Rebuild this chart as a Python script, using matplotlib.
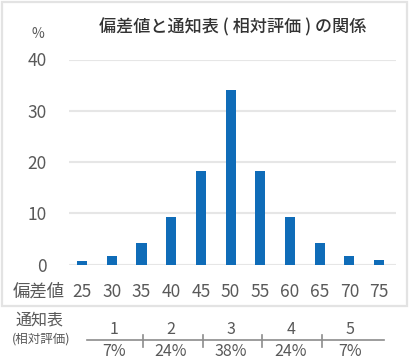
import matplotlib
matplotlib.use("Agg")
import matplotlib.pyplot as plt
from matplotlib.patches import Rectangle
from matplotlib.lines import Line2D

plt.rcParams['font.family'] = ['Noto Sans CJK JP', 'DejaVu Sans']

deviation = ['25', '30', '35', '40', '45', '50', '55', '60', '65', '70', '75']
percent = [0.6, 1.7, 4.1, 9.2, 18.2, 34.0, 18.2, 9.2, 4.1, 1.7, 0.9]
grades = ['1', '2', '3', '4', '5']
grade_share = ['7%', '24%', '38%', '24%', '7%']
yticks = [0, 10, 20, 30, 40]

W, H = 411, 364
fig = plt.figure(figsize=(W / 100, H / 100), dpi=100)

def fx(px):
    return px / W

def fy(py):
    return 1 - py / H

# outer frame
fig.patches.append(Rectangle((fx(2), fy(306)), fx(407) - fx(2), fy(2) - fy(306),
                             transform=fig.transFigure, fill=False,
                             edgecolor='#e3e3e3', linewidth=1.6))

ax = fig.add_axes([fx(69), fy(264.5), fx(396) - fx(69), fy(59.5) - fy(264.5)])
x = list(range(len(deviation)))
ax.bar(x, percent, width=0.34, color='#0f6cb8', zorder=3)
ax.set_xlim(-0.44, 10.57)
ax.set_ylim(0, 40)
ax.set_yticks(yticks)
ax.set_yticklabels([str(v) for v in yticks], fontsize=12.5, color='#595959')
ax.set_xticks(x)
ax.set_xticklabels(deviation, fontsize=12.5, color='#595959')
ax.tick_params(axis='y', length=0, pad=16)
ax.tick_params(axis='x', length=0, pad=13)
ax.grid(axis='y', color='#e6e6e6', linewidth=1.5, zorder=0)
for s in ax.spines.values():
    s.set_visible(False)
ax.patch.set_alpha(0)

fig.text(fx(38), fy(34), '%', fontsize=10, color='#595959', ha='center', va='center')
fig.text(fx(233), fy(27), '偏差値と通知表 ( 相対評価 ) の関係', fontsize=12.3,
         color='#333333', ha='center', va='center', fontweight='medium')
fig.text(fx(39), fy(292), '偏差値', fontsize=12.5, color='#595959', ha='center', va='center')

fig.text(fx(40), fy(320), '通知表', fontsize=11.5, color='#595959', ha='center', va='center')
fig.text(fx(41), fy(339), '(相対評価)', fontsize=9, color='#595959', ha='center', va='center')

# bottom scale
fig.add_artist(Line2D([fx(87), fx(384)], [fy(340), fy(340)], transform=fig.transFigure,
                      color='#8c8c8c', linewidth=1.2))
for tx in [143, 203, 262, 322]:
    fig.add_artist(Line2D([fx(tx), fx(tx)], [fy(335), fy(347)], transform=fig.transFigure,
                          color='#8c8c8c', linewidth=1.2))
centers = [114, 171, 231, 291, 350]
for c, g, s in zip(centers, grades, grade_share):
    fig.text(fx(c), fy(330), g, fontsize=11.5, color='#595959', ha='center', va='center')
    fig.text(fx(c), fy(352), s, fontsize=11.5, color='#595959', ha='center', va='center')

fig.savefig('out.png', dpi=100)
